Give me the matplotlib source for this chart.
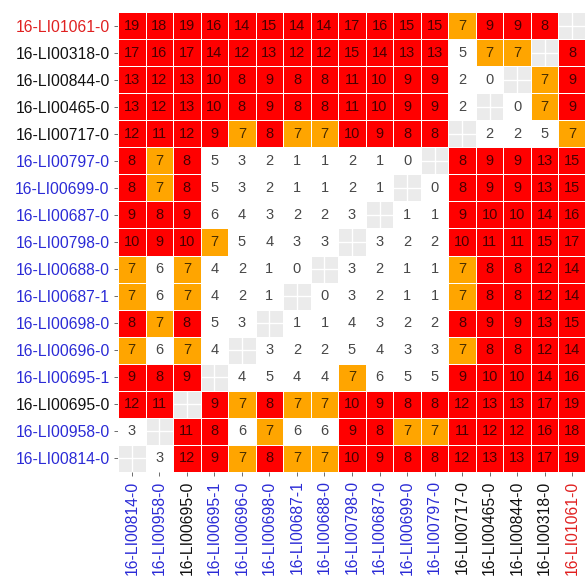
import numpy as np
import matplotlib
matplotlib.use("Agg")
import matplotlib.pyplot as plt
from matplotlib.colors import ListedColormap, BoundaryNorm

# Sample order (x axis left->right, y axis bottom->top)
samples = ["16-LI00814-0", "16-LI00958-0", "16-LI00695-0", "16-LI00695-1",
           "16-LI00696-0", "16-LI00698-0", "16-LI00687-1", "16-LI00688-0",
           "16-LI00798-0", "16-LI00687-0", "16-LI00699-0", "16-LI00797-0",
           "16-LI00717-0", "16-LI00465-0", "16-LI00844-0", "16-LI00318-0",
           "16-LI01061-0"]
label_colors = ["#2b2bd6", "#2b2bd6", "#111111", "#2b2bd6", "#2b2bd6", "#2b2bd6",
                "#2b2bd6", "#2b2bd6", "#2b2bd6", "#2b2bd6", "#2b2bd6", "#2b2bd6",
                "#111111", "#111111", "#111111", "#111111", "#e02020"]

N = None
# rows listed top (16-LI01061-0) to bottom (16-LI00814-0)
rows_top_down = [
    [19, 18, 19, 16, 14, 15, 14, 14, 17, 16, 15, 15, 7, 9, 9, 8, N],
    [17, 16, 17, 14, 12, 13, 12, 12, 15, 14, 13, 13, 5, 7, 7, N, 8],
    [13, 12, 13, 10, 8, 9, 8, 8, 11, 10, 9, 9, 2, 0, N, 7, 9],
    [13, 12, 13, 10, 8, 9, 8, 8, 11, 10, 9, 9, 2, N, 0, 7, 9],
    [12, 11, 12, 9, 7, 8, 7, 7, 10, 9, 8, 8, N, 2, 2, 5, 7],
    [8, 7, 8, 5, 3, 2, 1, 1, 2, 1, 0, N, 8, 9, 9, 13, 15],
    [8, 7, 8, 5, 3, 2, 1, 1, 2, 1, N, 0, 8, 9, 9, 13, 15],
    [9, 8, 9, 6, 4, 3, 2, 2, 3, N, 1, 1, 9, 10, 10, 14, 16],
    [10, 9, 10, 7, 5, 4, 3, 3, N, 3, 2, 2, 10, 11, 11, 15, 17],
    [7, 6, 7, 4, 2, 1, 0, N, 3, 2, 1, 1, 7, 8, 8, 12, 14],
    [7, 6, 7, 4, 2, 1, N, 0, 3, 2, 1, 1, 7, 8, 8, 12, 14],
    [8, 7, 8, 5, 3, N, 1, 1, 4, 3, 2, 2, 8, 9, 9, 13, 15],
    [7, 6, 7, 4, N, 3, 2, 2, 5, 4, 3, 3, 7, 8, 8, 12, 14],
    [9, 8, 9, N, 4, 5, 4, 4, 7, 6, 5, 5, 9, 10, 10, 14, 16],
    [12, 11, N, 9, 7, 8, 7, 7, 10, 9, 8, 8, 12, 13, 13, 17, 19],
    [3, N, 11, 8, 6, 7, 6, 6, 9, 8, 7, 7, 11, 12, 12, 16, 18],
    [N, 3, 12, 9, 7, 8, 7, 7, 10, 9, 8, 8, 12, 13, 13, 17, 19],
]
bin_edges = [-0.5, 6.5, 7.5, 100]
bin_colors = ["#ffffff", "#ffa500", "#ff0000"]

M = np.array([[np.nan if v is None else v for v in r] for r in rows_top_down[::-1]], dtype=float)
n = len(samples)

fig = plt.figure(figsize=(5.85, 5.77), dpi=100)
ax = fig.add_axes([118/585, 1 - 472/577, 468/585, 460/577])
ax.set_facecolor("#ebebeb")

cmap = ListedColormap(bin_colors)
norm = BoundaryNorm(bin_edges, cmap.N)
Mm = np.ma.masked_invalid(M)
x = np.arange(n + 1) - 0.5
ax.pcolormesh(x, x, Mm, cmap=cmap, norm=norm, edgecolors="white",
              linewidth=0.6, zorder=2)

for i in range(n):
    for j in range(n):
        v = M[i, j]
        if not np.isnan(v):
            ax.text(j, i, f"{int(v)}", ha="center", va="center",
                    fontsize=10.5, color="black", alpha=0.72,
                    family="Liberation Sans", zorder=3)

ax.set_xlim(-0.5, n - 0.5)
ax.set_ylim(-0.5, n - 0.5)
ax.set_xticks(range(n))
ax.set_yticks(range(n))
ax.set_xticklabels(samples, rotation=90, family="Liberation Sans", fontsize=11.3)
ax.set_yticklabels(samples, family="Liberation Sans", fontsize=11.3)
for lbl, c in zip(ax.get_xticklabels(), label_colors):
    lbl.set_color(c)
for lbl, c in zip(ax.get_yticklabels(), label_colors):
    lbl.set_color(c)
ax.tick_params(length=3, width=0.6, color="#555555", pad=3)
ax.grid(True, color="white", linewidth=1.0, zorder=1)
ax.set_axisbelow(True)
for s in ax.spines.values():
    s.set_visible(False)

fig.savefig("out.png", dpi=100)
